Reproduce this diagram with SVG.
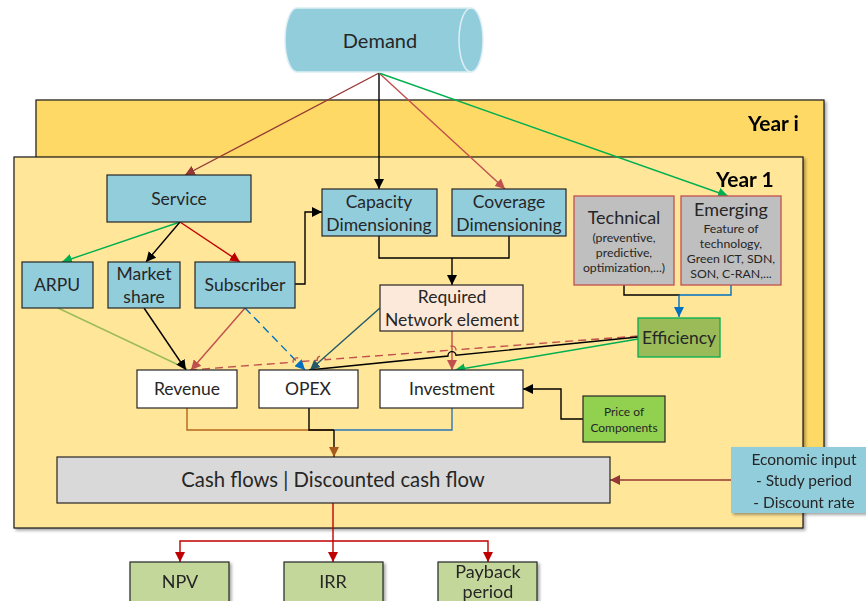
<svg xmlns="http://www.w3.org/2000/svg" width="866" height="601" viewBox="0 0 866 601">
  <defs>
    <style>
      text { font-family: Lato, "Liberation Sans", sans-serif; fill: #262626; text-anchor: middle; }
      .t16 { font-size: 17.5px; }
      .t17 { font-size: 18px; }
      .small { font-size: 12.3px; }
      .tiny { font-size: 12px; }
      .yr { font-size: 21px; font-weight: bold; fill: #000; text-anchor: start; }
      .box { stroke: #262626; stroke-width: 1.2; }
      .blue { fill: #92CDDC; }
      .white { fill: #FFFFFF; }
      .grey { fill: #BFBFBF; stroke: #C0504D; stroke-width: 1.3; }
      .res { fill: #C4D79B; }
      .ln { fill: none; stroke-width: 1.4; }
    </style>
    <filter id="shadow" x="-10%" y="-10%" width="130%" height="130%">
      <feDropShadow dx="2" dy="2" stdDeviation="1.5" flood-color="#000" flood-opacity="0.35"/>
    </filter>
    <marker id="aBlack" viewBox="0 0 10 10" refX="10" refY="5" markerWidth="10" markerHeight="10" markerUnits="userSpaceOnUse" orient="auto"><path d="M0,0 L10,5 L0,10 Z" fill="#000"/></marker>
    <marker id="aBrown" viewBox="0 0 10 10" refX="10" refY="5" markerWidth="10" markerHeight="10" markerUnits="userSpaceOnUse" orient="auto"><path d="M0,0 L10,5 L0,10 Z" fill="#953735"/></marker>
    <marker id="aRust" viewBox="0 0 10 10" refX="10" refY="5" markerWidth="10" markerHeight="10" markerUnits="userSpaceOnUse" orient="auto"><path d="M0,0 L10,5 L0,10 Z" fill="#C0504D"/></marker>
    <marker id="aRed" viewBox="0 0 10 10" refX="10" refY="5" markerWidth="10" markerHeight="10" markerUnits="userSpaceOnUse" orient="auto"><path d="M0,0 L10,5 L0,10 Z" fill="#C00000"/></marker>
    <marker id="aGreen" viewBox="0 0 10 10" refX="10" refY="5" markerWidth="10" markerHeight="10" markerUnits="userSpaceOnUse" orient="auto"><path d="M0,0 L10,5 L0,10 Z" fill="#00B050"/></marker>
    <marker id="aBlue" viewBox="0 0 10 10" refX="10" refY="5" markerWidth="10" markerHeight="10" markerUnits="userSpaceOnUse" orient="auto"><path d="M0,0 L10,5 L0,10 Z" fill="#0070C0"/></marker>
    <marker id="aTeal" viewBox="0 0 10 10" refX="10" refY="5" markerWidth="10" markerHeight="10" markerUnits="userSpaceOnUse" orient="auto"><path d="M0,0 L10,5 L0,10 Z" fill="#215968"/></marker>
    <marker id="aOrange" viewBox="0 0 10 10" refX="10" refY="5" markerWidth="10" markerHeight="10" markerUnits="userSpaceOnUse" orient="auto"><path d="M0,0 L10,5 L0,10 Z" fill="#A8591C"/></marker>
  </defs>

  <!-- period panels -->
  <g id="year-i" filter="url(#shadow)">
    <rect x="36" y="100" width="788" height="380" fill="#FFD966" stroke="#1A1A1A" stroke-width="1.2"/>
    <text class="yr" x="748" y="131">Year i</text>
  </g>
  <g id="year-1" filter="url(#shadow)">
    <rect x="14" y="157" width="789" height="371" fill="#FFE699" stroke="#1A1A1A" stroke-width="1.2"/>
    <text class="yr" x="716" y="187">Year 1</text>
  </g>

  <!-- connectors -->
  <g id="connectors">
    <!-- from demand -->
    <line class="ln" x1="379" y1="73" x2="185" y2="175" stroke="#953735" marker-end="url(#aBrown)"/>
    <line class="ln" x1="379" y1="73" x2="379" y2="189" stroke="#000" marker-end="url(#aBlack)"/>
    <line class="ln" x1="379" y1="73" x2="505" y2="189" stroke="#C0504D" marker-end="url(#aRust)"/>
    <line class="ln" x1="379" y1="73" x2="728" y2="196" stroke="#00B050" marker-end="url(#aGreen)"/>
    <!-- from service -->
    <line class="ln" x1="180" y1="222" x2="62" y2="262" stroke="#00B050" marker-end="url(#aGreen)"/>
    <line class="ln" x1="180" y1="222" x2="146" y2="262" stroke="#000" marker-end="url(#aBlack)"/>
    <line class="ln" x1="180" y1="222" x2="240" y2="262" stroke="#C00000" marker-end="url(#aRed)"/>
    <!-- subscriber to capacity -->
    <polyline class="ln" points="295,284 305,284 305,212 322,212" stroke="#000" stroke-width="1.1" marker-end="url(#aBlack)"/>
    <!-- dimensioning to required network element -->
    <polyline class="ln" points="379,236 379,258 509,258 509,236" stroke="#000" stroke-width="1.5"/>
    <line class="ln" x1="452" y1="258" x2="452" y2="285" stroke="#000" stroke-width="1.5" marker-end="url(#aBlack)"/>
    <!-- technical / emerging to efficiency -->
    <polyline class="ln" points="624,285 624,295 680,295" stroke="#000" stroke-width="1.5"/>
    <polyline class="ln" points="731,285 731,295 679,295" stroke="#0070C0" stroke-width="1.5"/>
    <line class="ln" x1="679" y1="295" x2="679" y2="317" stroke="#0070C0" stroke-width="1.5" marker-end="url(#aBlue)"/>
    <!-- into revenue -->
    <line class="ln" x1="58" y1="308" x2="187" y2="369" stroke="#9BBB59" stroke-width="1.2"/>
    <line class="ln" x1="144" y1="308" x2="186" y2="370" stroke="#000" marker-end="url(#aBlack)"/>
    <line class="ln" x1="245" y1="308" x2="191" y2="370" stroke="#C0504D" marker-end="url(#aRust)"/>
    <!-- into OPEX -->
    <line class="ln" x1="245" y1="308" x2="305" y2="370" stroke="#0070C0" stroke-dasharray="8 5" marker-end="url(#aBlue)"/>
    <line class="ln" x1="380" y1="308" x2="310" y2="370" stroke="#215968" marker-end="url(#aTeal)"/>
    <!-- required network element to investment -->
    <line class="ln" x1="452" y1="331" x2="452" y2="370" stroke="#C0504D" marker-end="url(#aRust)"/>
    <!-- efficiency to revenue (dashed, hops over crossings) -->
    <path class="ln" stroke="#C0504D" stroke-dasharray="8 5"
          d="M638,336 L456,349.8 A4,4 0 0 0 448,350.4 L325.2,359.7 A4,4 0 0 0 317.2,360.3 L301,361.6 A4,4 0 0 0 293,362.2 L190,370"/>
    <!-- efficiency to OPEX -->
    <path class="ln" stroke="#000" stroke-width="1.3" d="M638,337 L456,355.25 A4,4 0 0 0 448,356.06 L309,370"/>
    <!-- efficiency to investment -->
    <line class="ln" x1="638" y1="339" x2="455" y2="370" stroke="#00B050" marker-end="url(#aGreen)"/>
    <!-- price of components to investment -->
    <polyline class="ln" points="583,419 561,419 561,389 523,389" stroke="#000" stroke-width="1.3" marker-end="url(#aBlack)"/>
    <!-- results into cash flows -->
    <polyline class="ln" points="187,408 187,430 334,430" stroke="#B8651B" stroke-width="1.5"/>
    <polyline class="ln" points="309,408 309,430 334,430" stroke="#000" stroke-width="1.5"/>
    <polyline class="ln" points="452,408 452,430 334,430" stroke="#2E75B6" stroke-width="1.5"/>
    <line class="ln" x1="334" y1="430" x2="334" y2="457" stroke="#000" stroke-width="1.3" marker-end="url(#aOrange)"/>
    <!-- economic input -->
    <line class="ln" x1="731" y1="480" x2="610" y2="480" stroke="#953735" marker-end="url(#aBrown)"/>
    <!-- cash flows to indicators -->
    <line class="ln" x1="333" y1="503" x2="333" y2="562" stroke="#C00000" stroke-width="1.5" marker-end="url(#aRed)"/>
    <polyline class="ln" points="333,541 180,541 180,562" stroke="#C00000" stroke-width="1.5" marker-end="url(#aRed)"/>
    <polyline class="ln" points="333,541 488,541 488,562" stroke="#C00000" stroke-width="1.5" marker-end="url(#aRed)"/>
  </g>

  <!-- nodes -->
  <g id="demand">
    <path d="M297,8 L471,8 A12,32 0 0 1 471,72 L297,72 A12,32 0 0 1 297,8 Z" fill="#92CDDC" stroke="#DDEFF4" stroke-width="1.5"/>
    <path d="M471,8 A12,32 0 0 0 471,72" fill="none" stroke="#DDEFF4" stroke-width="1.5"/>
    <text x="380" y="48" font-size="20">Demand</text>
  </g>
  <g id="service">
    <rect class="box blue" x="107" y="175" width="144" height="47"/>
    <text class="t16" x="179" y="205">Service</text>
  </g>
  <g id="arpu">
    <rect class="box blue" x="22" y="262" width="71" height="46"/>
    <text class="t16" x="57" y="291">ARPU</text>
  </g>
  <g id="market-share">
    <rect class="box blue" x="108" y="262" width="72" height="46"/>
    <text class="t16" x="144" y="280">Market</text>
    <text class="t16" x="144" y="303">share</text>
  </g>
  <g id="subscriber">
    <rect class="box blue" x="195" y="262" width="100" height="46"/>
    <text class="t16" x="245" y="291">Subscriber</text>
  </g>
  <g id="capacity">
    <rect class="box blue" x="322" y="189" width="115" height="47"/>
    <text class="t16" x="379" y="208">Capacity</text>
    <text class="t16" x="379" y="231">Dimensioning</text>
  </g>
  <g id="coverage">
    <rect class="box blue" x="452" y="189" width="114" height="47"/>
    <text class="t16" x="509" y="208">Coverage</text>
    <text class="t16" x="509" y="231">Dimensioning</text>
  </g>
  <g id="required-network-element">
    <rect class="box" x="380" y="285" width="143" height="46" fill="#FDE9D9"/>
    <text class="t16" x="452" y="303">Required</text>
    <text class="t16" x="452" y="326">Network element</text>
  </g>
  <g id="technical">
    <rect class="grey" x="574" y="196" width="100" height="89"/>
    <text class="t17" x="624" y="224">Technical</text>
    <text class="small" x="624" y="242">(preventive,</text>
    <text class="small" x="624" y="257">predictive,</text>
    <text class="small" x="624" y="272">optimization,...)</text>
  </g>
  <g id="emerging">
    <rect class="grey" x="681" y="196" width="100" height="89"/>
    <text class="t17" x="731" y="216">Emerging</text>
    <text class="small" x="731" y="233">Feature of</text>
    <text class="small" x="731" y="248">technology,</text>
    <text class="small" x="731" y="263">Green ICT, SDN,</text>
    <text class="small" x="731" y="278">SON, C-RAN,...</text>
  </g>
  <g id="efficiency">
    <rect x="638" y="318" width="82" height="39" fill="#9BBB59" stroke="#00B050" stroke-width="1.3"/>
    <text class="t16" x="679" y="344">Efficiency</text>
  </g>
  <g id="revenue">
    <rect class="box white" x="137" y="370" width="100" height="38"/>
    <text class="t16" x="187" y="395">Revenue</text>
  </g>
  <g id="opex">
    <rect class="box white" x="259" y="370" width="99" height="38"/>
    <text class="t16" x="308" y="395">OPEX</text>
  </g>
  <g id="investment">
    <rect class="box white" x="380" y="370" width="143" height="38"/>
    <text class="t16" x="452" y="395">Investment</text>
  </g>
  <g id="price-of-components">
    <rect class="box" x="583" y="396" width="82" height="46" fill="#92D050"/>
    <text class="tiny" x="624" y="416">Price of</text>
    <text class="tiny" x="624" y="432">Components</text>
  </g>
  <g id="cash-flows">
    <rect class="box" x="57" y="457" width="553" height="46" fill="#D9D9D9"/>
    <text x="333" y="487" font-size="20.3">Cash flows | Discounted cash flow</text>
  </g>
  <g id="economic-input" filter="url(#shadow)">
    <rect x="731" y="447" width="140" height="66" fill="#92CDDC"/>
    <text x="804" y="465" font-size="15.5">Economic input</text>
    <text x="804" y="486" font-size="15.5">- Study period</text>
    <text x="804" y="508" font-size="15.5">- Discount rate</text>
  </g>
  <g id="npv" filter="url(#shadow)">
    <rect class="box res" x="130" y="562" width="99" height="42"/>
    <text class="t17" x="180" y="588">NPV</text>
  </g>
  <g id="irr" filter="url(#shadow)">
    <rect class="box res" x="284" y="562" width="99" height="42"/>
    <text class="t17" x="333" y="588">IRR</text>
  </g>
  <g id="payback-period" filter="url(#shadow)">
    <rect class="box res" x="438" y="562" width="99" height="42"/>
    <text class="t17" x="488" y="578">Payback</text>
    <text class="t17" x="488" y="598">period</text>
  </g>
</svg>
